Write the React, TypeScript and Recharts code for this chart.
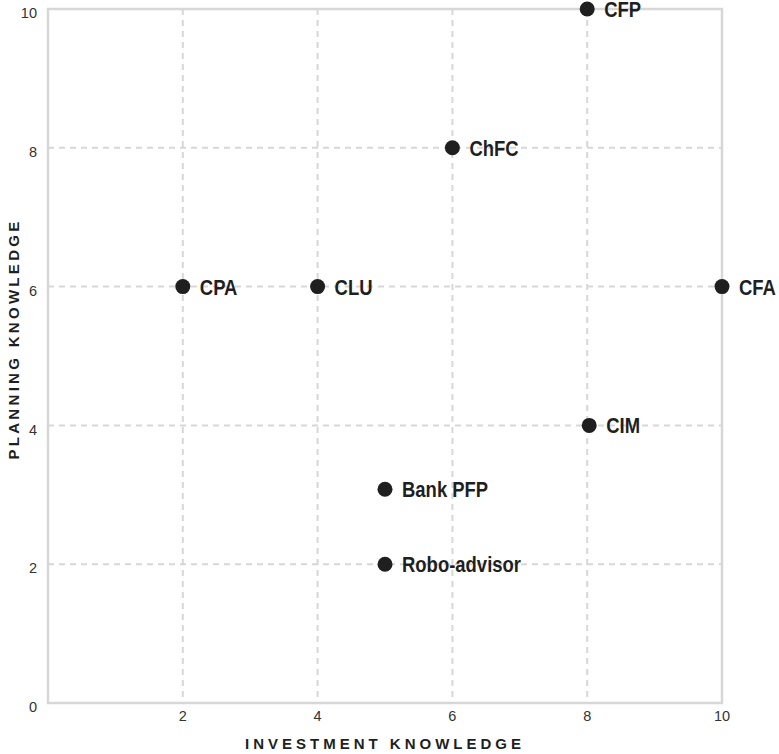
import React from "react";
import {
  ScatterChart,
  Scatter,
  XAxis,
  YAxis,
  CartesianGrid,
  ReferenceArea,
} from "recharts";

const names = ["CFP", "ChFC", "CPA", "CLU", "CFA", "CIM", "Bank PFP", "Robo-advisor"];
const investment = [8, 6, 2, 4, 10, 8.03, 5, 5];
const planning = [10, 8, 6, 6, 6, 4, 3.08, 2];
const xTicks = [2, 4, 6, 8, 10];
const yTicks = [0, 2, 4, 6, 8, 10];

const data = names.map((n, i) => ({ name: n, x: investment[i], y: planning[i] }));

const GRID = "#d7d7d7";
const INK = "#1f1f1f";
const FONT = "'Liberation Sans', Arial, sans-serif";

const PointShape = (props: any) => {
  const { cx, cy, payload } = props;
  return (
    <g>
      <circle cx={cx} cy={cy} r={7.5} fill={INK} />
      <g transform={`translate(${cx + 17},${cy}) scale(0.84,1)`}>
        <text x={0} y={0} dy="0.36em" fontFamily={FONT} fontWeight="bold" fontSize={22} fill={INK}>
          {payload.name}
        </text>
      </g>
    </g>
  );
};

const YTick = (props: any) => {
  const { x, y, payload } = props;
  return (
    <text x={x} y={y + 4} dy="0.355em" textAnchor="end" fontFamily={FONT} fontSize={14.5} fill="#333">
      {payload.value}
    </text>
  );
};

const XTick = (props: any) => {
  const { x, y, payload } = props;
  return (
    <text x={x} y={y} dy="0.71em" textAnchor="middle" fontFamily={FONT} fontSize={14.5} fill="#333">
      {payload.value}
    </text>
  );
};

const YLabel = (props: any) => {
  const { viewBox } = props;
  const cx = 14;
  const cy = viewBox.y + viewBox.height / 2 - 17;
  return (
    <text
      x={cx}
      y={cy}
      transform={`rotate(-90, ${cx}, ${cy})`}
      textAnchor="middle"
      dy="0.36em"
      fontFamily={FONT}
      fontWeight="bold"
      fontSize={15}
      letterSpacing={3.3}
      fill={INK}
    >
      PLANNING KNOWLEDGE
    </text>
  );
};

export default function App() {
  return (
    <div style={{ position: "absolute", left: 0, top: 0, width: 779, height: 754, background: "#fff" }}>
      <ScatterChart width={779} height={754} margin={{ top: 9, right: 57, left: 0, bottom: 0 }}>
        <CartesianGrid stroke={GRID} strokeWidth={2} strokeDasharray="6 5" />
        <XAxis
          type="number"
          dataKey="x"
          domain={[0, 10]}
          ticks={xTicks}
          height={51}
          axisLine={false}
          tickLine={false}
          tickSize={0}
          tickMargin={8}
          tick={<XTick />}
          label={{
            value: "INVESTMENT KNOWLEDGE",
            position: "insideBottom",
            offset: 5,
            style: {
              fontFamily: FONT,
              fontWeight: "bold",
              fontSize: 15,
              letterSpacing: 4,
              fill: INK,
            },
          }}
        />
        <YAxis
          type="number"
          dataKey="y"
          domain={[0, 10]}
          ticks={yTicks}
          width={48}
          axisLine={false}
          tickLine={false}
          tickSize={0}
          tickMargin={11}
          tick={<YTick />}
          label={<YLabel />}
        />
        <ReferenceArea
          x1={0}
          x2={10}
          y1={0}
          y2={10}
          fill="none"
          fillOpacity={0}
          stroke={GRID}
          strokeWidth={2.5}
          ifOverflow="visible"
        />
        <Scatter data={data} shape={<PointShape />} isAnimationActive={false} />
      </ScatterChart>
    </div>
  );
}
